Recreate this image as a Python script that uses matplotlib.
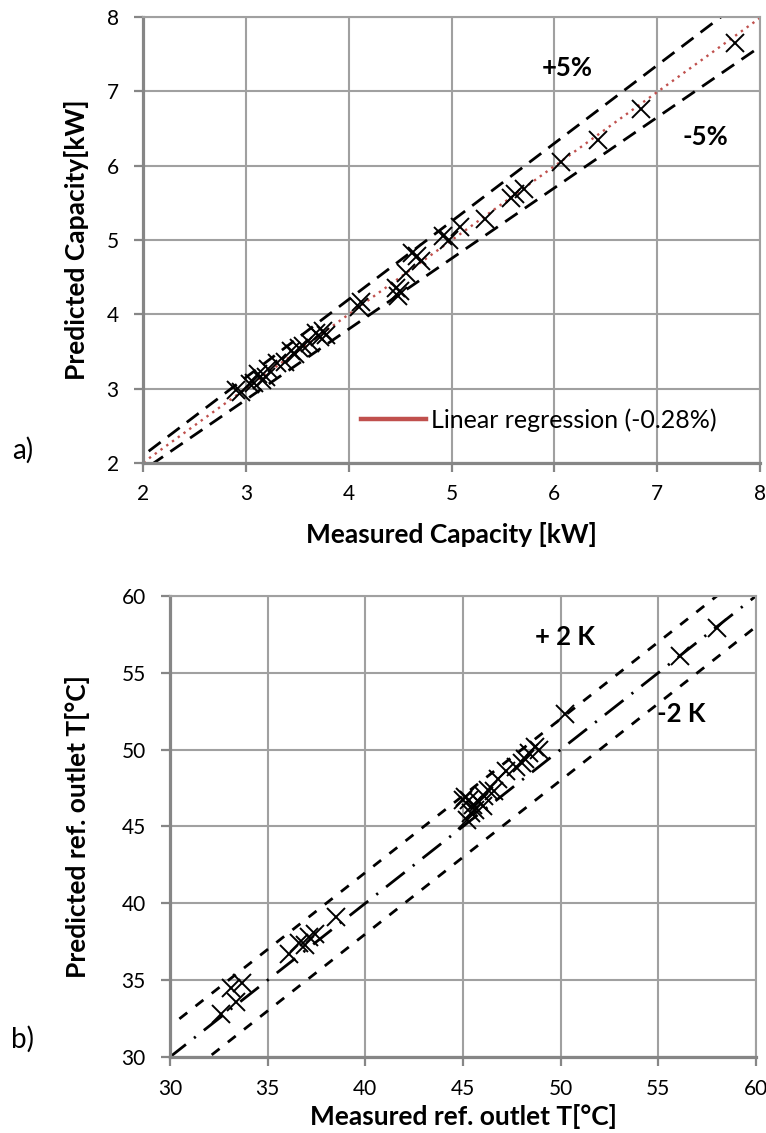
import numpy as np
import matplotlib.pyplot as plt
from matplotlib.lines import Line2D

plt.rcParams['font.family'] = ['Lato', 'DejaVu Sans']

# a) capacity [kW]
cap_measured = [7.76, 6.84, 6.42, 6.06, 5.70, 5.62, 5.58, 5.33, 5.08, 4.92, 4.98,
                4.62, 4.66, 4.70, 4.56, 4.50, 4.46, 4.48, 4.12, 4.10, 3.78, 3.75,
                3.72, 3.68, 3.62, 3.56, 3.52, 3.48, 3.44, 3.38, 3.30, 3.22, 3.20,
                3.16, 3.12, 3.08, 3.04, 2.95, 2.90]
cap_predicted = [7.65, 6.76, 6.34, 6.05, 5.68, 5.62, 5.57, 5.28, 5.17, 5.06, 5.00,
                 4.82, 4.78, 4.72, 4.56, 4.32, 4.36, 4.24, 4.16, 4.10, 3.72, 3.77,
                 3.70, 3.75, 3.62, 3.58, 3.54, 3.46, 3.50, 3.36, 3.34, 3.26, 3.16,
                 3.12, 3.20, 3.07, 3.06, 2.96, 2.98]

# b) refrigerant outlet temperature [°C]
t_measured = [58.0, 56.1, 50.2, 48.9, 48.7, 48.4, 48.2, 48.0, 47.7, 47.2, 46.8,
              46.6, 46.3, 46.1, 45.8, 45.5, 45.3, 45.1, 45.0, 45.6, 45.4, 46.0,
              45.2, 38.5, 37.4, 37.1, 36.9, 36.6, 36.1, 33.7, 33.1, 33.4, 32.6]
t_predicted = [57.9, 56.1, 52.3, 50.0, 50.2, 49.8, 49.4, 49.1, 48.9, 48.6, 48.1,
               47.3, 47.4, 47.0, 46.6, 46.4, 46.7, 46.9, 46.7, 46.1, 45.9, 46.3,
               45.4, 39.1, 38.0, 37.8, 37.3, 37.4, 36.7, 34.8, 34.5, 33.6, 32.8]

grid_c = '#a0a0a0'
axis_c = '#868686'
red = '#C0504D'

fig = plt.figure(figsize=(7.66, 11.33), dpi=100)


def style_axes(ax, lo, hi, step):
    ax.set_xlim(lo, hi)
    ax.set_ylim(lo, hi)
    ticks = np.arange(lo, hi + step / 2, step)
    ax.set_xticks(ticks)
    ax.set_yticks(ticks)
    ax.grid(True, color=grid_c, lw=1.5)
    ax.set_axisbelow(True)
    for s in ['top', 'right']:
        ax.spines[s].set_color(grid_c)
        ax.spines[s].set_linewidth(1.5)
    for s in ['left', 'bottom']:
        ax.spines[s].set_color(axis_c)
        ax.spines[s].set_linewidth(2.3)
    ax.tick_params(direction='out', length=6.5, width=1.6, color=axis_c,
                   labelsize=15)
    ax.tick_params(axis='x', pad=9)
    ax.tick_params(axis='y', pad=11)


# ---- a) ----
ax1 = fig.add_axes([0.1867, 0.5914, 0.8055, 0.3936])
style_axes(ax1, 2, 8, 1)
xx = np.linspace(1.5, 8.5, 50)
ax1.plot(xx, 1.05 * xx, ls=(0, (5.4, 3.2)), color='black', lw=2.0)
ax1.plot(xx, 0.95 * xx, ls=(0, (5.4, 3.2)), color='black', lw=2.0)
ax1.plot(xx, 0.9972 * xx + 0.01, ls=(0, (1, 2)), color=red, lw=1.7)
ax1.plot(cap_measured, cap_predicted, ls='none', marker='x', ms=12.5, mew=1.4,
         color='black')
ax1.text(6.13, 7.31, '+5%', fontsize=18.5, fontweight='bold', ha='center', va='center')
ax1.text(7.47, 6.39, '-5%', fontsize=18.5, fontweight='bold', ha='center', va='center')
ax1.legend([Line2D([], [], color=red, lw=3.2)], ['Linear regression (-0.28%)'],
           loc='center left', bbox_to_anchor=(4.12, 2.58),
           bbox_transform=ax1.transData, frameon=False, borderpad=0,
           borderaxespad=0, fontsize=18, handlelength=2.6, handletextpad=0.2)
ax1.set_xlabel('Measured Capacity [kW]', fontsize=19, fontweight='bold', va='center')
ax1.xaxis.set_label_coords(0.5, -0.16)
ax1.set_ylabel('Predicted Capacity[kW]', fontsize=19, fontweight='bold', va='center')
ax1.yaxis.set_label_coords(-0.107, 0.5)
fig.text(0.030, 0.603, 'a)', fontsize=20, ha='center', va='center')

# ---- b) ----
ax2 = fig.add_axes([0.2219, 0.0671, 0.765, 0.4069])
style_axes(ax2, 30, 60, 5)
tt = np.linspace(28, 62, 50)
ax2.plot(tt, tt + 2, ls=(0, (3.6, 3.8)), color='black', lw=2.0)
ax2.plot(tt, tt - 2, ls=(0, (3.6, 3.8)), color='black', lw=2.0)
ax2.plot(tt, tt, ls=(0, (8.5, 3.7, 0.8, 3.7)), color='black', lw=2.0)
ax2.plot(t_measured, t_predicted, ls='none', marker='x', ms=12.5, mew=1.4,
         color='black')
ax2.text(50.2, 57.3, '+ 2 K', fontsize=18.5, fontweight='bold', ha='center', va='center')
ax2.text(56.2, 52.3, '-2 K', fontsize=18.5, fontweight='bold', ha='center', va='center')
ax2.set_xlabel('Measured ref. outlet T[°C]', fontsize=19, fontweight='bold', va='center')
ax2.xaxis.set_label_coords(0.5, -0.13)
ax2.set_ylabel('Predicted ref. outlet T[°C]', fontsize=19, fontweight='bold', va='center')
ax2.yaxis.set_label_coords(-0.157, 0.5)
fig.text(0.030, 0.083, 'b)', fontsize=20, ha='center', va='center')

fig.savefig('out.png', dpi=100)
